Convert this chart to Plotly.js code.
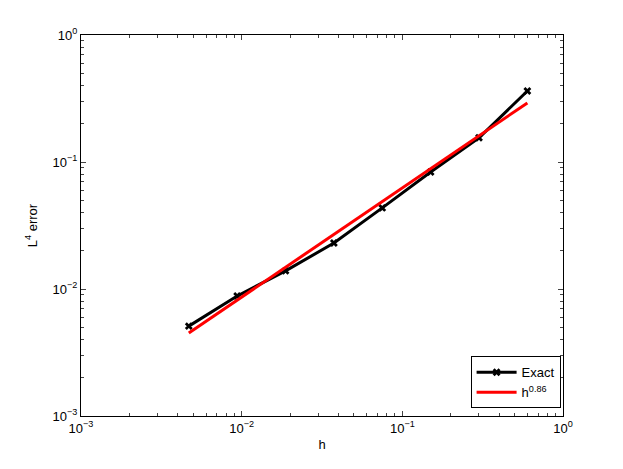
<!DOCTYPE html>
<html>
<head>
<meta charset="utf-8">
<script src="https://cdn.plot.ly/plotly-3.0.1.min.js"></script>
<style>html,body{margin:0;padding:0;background:#fff;}#plot{width:623px;height:469px;}</style>
</head>
<body>
<div id="plot"></div>
<script>
// Mesh sizes
var hValues = [0.0046875, 0.009375, 0.01875, 0.0375, 0.075, 0.15, 0.3, 0.6];
// Exact L4 error
var exactErr = [0.0051, 0.0088, 0.0139, 0.0230, 0.0435, 0.0834, 0.155, 0.362];
// Fitted power line h^0.86 (endpoints)
var fitH = [0.0046875, 0.6];
var fitErr = [0.0045, 0.292];
var fitLabel = 'h<sup>0.86</sup>';
// Tick positions and labels (both axes)
var tickVals = [0.001, 0.01, 0.1, 1];
var tickText = ['10<sup>\u22123</sup>', '10<sup>\u22122</sup>', '10<sup>\u22121</sup>', '10<sup>0</sup>'];

var font = {family: 'Liberation Sans, Arial, sans-serif', size: 13, color: '#000'};

var traces = [
  {x: hValues, y: exactErr, name: 'Exact', mode: 'lines+markers',
   line: {color: '#000', width: 3},
   marker: {symbol: 'x', size: 7, color: '#000'}},
  {x: fitH, y: fitErr, name: fitLabel, mode: 'lines',
   line: {color: '#ff0000', width: 3}}
];

function axis(title) {
  return {
    type: 'log', range: [-3, 0],
    tickmode: 'array', tickvals: tickVals, ticktext: tickText,
    showgrid: false, zeroline: false,
    showline: true, linecolor: '#000', linewidth: 1, mirror: 'allticks',
    ticks: 'inside', ticklen: 5, tickcolor: '#444',
    minor: {ticks: 'inside', ticklen: 3, tickcolor: '#444', showgrid: false, dtick: 'D1'},
    tickfont: font,
    title: {text: title, font: font}
  };
}

var xa = axis('h'); xa.title.standoff = 5;
var ya = axis('L<sup>4</sup> error'); ya.title.standoff = 12;

var layout = {
  width: 623, height: 469,
  margin: {l: 81, r: 60, t: 35, b: 53},
  paper_bgcolor: '#fff', plot_bgcolor: '#fff',
  font: font,
  showlegend: true,
  legend: {x: 0.995, y: 0.02, xanchor: 'right', yanchor: 'bottom',
           bordercolor: '#000', borderwidth: 1, bgcolor: '#fff',
           font: {family: font.family, size: 13, color: '#000'},
           itemwidth: 40, tracegroupgap: 0},
  xaxis: xa, yaxis: ya
};

Plotly.newPlot('plot', traces, layout, {displayModeBar: false, staticPlot: true});
</script>
</body>
</html>
